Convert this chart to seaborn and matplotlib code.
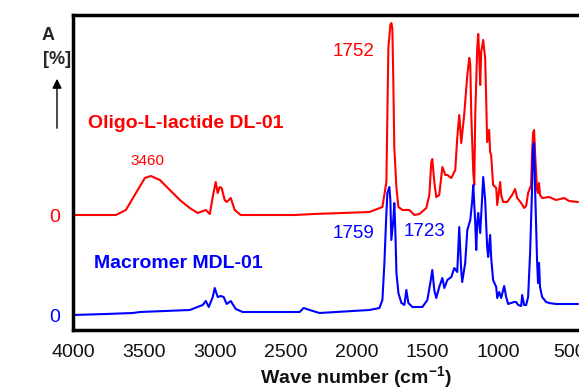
import matplotlib
matplotlib.use("Agg")
import matplotlib.pyplot as plt
import seaborn as sns
import pandas as pd

# ---- data (wavenumber in cm-1, absorbance in arbitrary units) ----
red_wn = [4000, 3697, 3627, 3556, 3493, 3451, 3387, 3317, 3246, 3176, 3120, 3063, 3035, 3014,
          2993, 2979, 2965, 2951, 2930, 2916, 2887, 2859, 2817, 2437, 2300, 2100, 1909, 1817,
          1789, 1782, 1775, 1761, 1754, 1747, 1740, 1733, 1718, 1704, 1676, 1627, 1592, 1556,
          1507, 1486, 1472, 1465, 1451, 1437, 1416, 1394, 1373, 1359, 1331, 1303, 1289, 1275,
          1268, 1261, 1240, 1218, 1204, 1197, 1190, 1176, 1169, 1162, 1148, 1141, 1134, 1127,
          1120, 1106, 1092, 1085, 1078, 1064, 1057, 1050, 1036, 1014, 1007, 986, 979, 965,
          937, 902, 881, 866, 838, 817, 803, 789, 768, 761, 754, 747, 740, 726, 719, 712,
          705, 690, 641, 592, 535, 500, 437]
red_abs = [0, 0, 5, 22, 37, 39, 35, 25, 15, 7, 2, 5, 1, 18,
           33, 22, 28, 27, 15, 13, 17, 5, 0, 0, 1, 2, 3, 8,
           33, 100, 167, 190, 192, 187, 133, 67, 27, 8, 5, 5, 0, 1,
           7, 20, 53, 56, 33, 18, 20, 48, 40, 40, 37, 45, 77, 100,
           87, 72, 100, 140, 157, 150, 100, 43, 30, 100, 167, 181, 160, 130,
           163, 175, 157, 117, 73, 85, 63, 60, 30, 27, 10, 33, 20, 13,
           13, 20, 26, 17, 12, 7, 9, 22, 30, 62, 82, 85, 62, 25, 22, 32,
           20, 17, 18, 15, 17, 14, 13]

blue_wn = [4000, 3768, 3577, 3528, 3176, 3085, 3063, 3042, 3014, 3000, 2979, 2958, 2937, 2916,
           2887, 2852, 2803, 2401, 2373, 2331, 2261, 1909, 1838, 1817, 1803, 1789, 1782, 1768,
           1761, 1754, 1740, 1733, 1726, 1718, 1704, 1683, 1662, 1648, 1634, 1606, 1535, 1500,
           1479, 1465, 1451, 1437, 1416, 1394, 1380, 1359, 1331, 1310, 1289, 1275, 1261, 1254,
           1233, 1218, 1197, 1183, 1176, 1162, 1155, 1148, 1141, 1127, 1113, 1106, 1092, 1078,
           1071, 1057, 1050, 1036, 1014, 1007, 993, 979, 958, 944, 930, 909, 888, 874,
           859, 838, 831, 817, 803, 789, 775, 761, 754, 747, 740, 726, 719, 712,
           705, 690, 662, 641, 592, 437]
blue_abs = [0, 1, 2, 3, 5, 10, 14, 8, 18, 27, 18, 19, 18, 11,
            14, 6, 3, 3, 7, 5, 2, 5, 7, 15, 52, 102, 122, 128,
            115, 75, 95, 112, 85, 42, 22, 12, 10, 25, 12, 8, 8, 15,
            32, 45, 25, 17, 28, 37, 27, 35, 38, 47, 43, 88, 45, 33,
            52, 85, 95, 115, 130, 92, 65, 92, 102, 82, 118, 138, 115, 68,
            58, 80, 58, 35, 28, 17, 23, 17, 29, 18, 11, 12, 13, 13,
            10, 9, 20, 10, 10, 18, 62, 128, 168, 172, 128, 55, 32, 52,
            28, 18, 13, 12, 11, 11]

red_offset = 100
x_ticks = [4000, 3500, 3000, 2500, 2000, 1500, 1000, 500]
red_name = "Oligo-L-lactide DL-01"
blue_name = "Macromer MDL-01"
peak_labels = [("3460", 3472, 154, "red", 11),
               ("1752", 2021, 264, "red", 13.5),
               ("1759", 2021, 82, "blue", 13.5),
               ("1723", 1521, 84, "blue", 13.5)]

# ---- styling ----
sns.set_style("white")
plt.rcParams["font.family"] = ["Liberation Sans", "DejaVu Sans"]
plt.rcParams["mathtext.fontset"] = "custom"
plt.rcParams["mathtext.rm"] = "Liberation Sans:bold"
plt.rcParams["mathtext.default"] = "rm"

RED = "#ff0000"
BLUE = "#0000ff"

fig = plt.figure(figsize=(5.79, 3.90), dpi=100)
ax = fig.add_axes([73 / 579, 60 / 390, 1 - 73 / 579, 315 / 390])

red_df = pd.DataFrame({"wn": red_wn, "a": [v + red_offset for v in red_abs]})
blue_df = pd.DataFrame({"wn": blue_wn, "a": blue_abs})

sns.lineplot(data=red_df, x="wn", y="a", ax=ax, color=RED, lw=1.5, estimator=None, sort=False)
sns.lineplot(data=blue_df, x="wn", y="a", ax=ax, color=BLUE, lw=1.5, estimator=None, sort=False)

ax.set_xlim(4000, 430)
ax.set_ylim(-15, 300)

ax.set_xticks(x_ticks)
ax.set_xticklabels([str(t) for t in x_ticks], fontsize=14, color="#111111")
ax.set_yticks([0, red_offset])
ax.set_yticklabels(["0", "0"], fontsize=14)
for lab, c in zip(ax.get_yticklabels(), [BLUE, RED]):
    lab.set_color(c)
ax.tick_params(axis="x", direction="out", length=4, width=1, color="#555555", pad=6)
ax.tick_params(axis="y", direction="out", length=4, width=1, color="#555555", pad=5)

for side in ["left", "bottom", "top"]:
    ax.spines[side].set_linewidth(2.5)
    ax.spines[side].set_color("black")
ax.spines["right"].set_visible(False)

ax.set_xlabel("Wave number (cm$^{-1}$)", fontsize=14, fontweight="bold", color="#111111")
ax.xaxis.label.set_va("center")
ax.xaxis.set_label_coords((356 - 73) / 506, -(377 - 330) / 315)
ax.set_ylabel("")

ax.text(3894, 191, red_name, color=RED, fontsize=14, fontweight="bold", ha="left", va="center")
ax.text(3852, 51, blue_name, color=BLUE, fontsize=14, fontweight="bold", ha="left", va="center")
for txt, xw, yv, c, fs in peak_labels:
    ax.text(xw, yv, txt, color=RED if c == "red" else BLUE, fontsize=fs, ha="center", va="center")

# y-axis caption with arrow
fig.text(48 / 579, 1 - 35 / 390, "A", fontsize=13, fontweight="bold", ha="center", va="center")
fig.text(57 / 579, 1 - 60 / 390, "[%]", fontsize=13, fontweight="bold", ha="center", va="center")
ax.annotate("", xy=(57, 390 - 76), xytext=(57, 390 - 131),
            xycoords="figure pixels", textcoords="figure pixels",
            arrowprops=dict(arrowstyle="-|>", color="black", lw=1, mutation_scale=14),
            annotation_clip=False)

fig.savefig("out.png", dpi=100)
